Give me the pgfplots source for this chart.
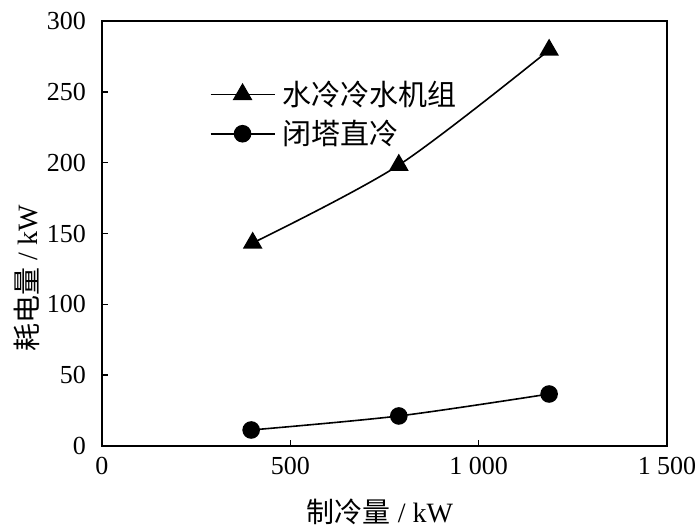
\documentclass[border=0pt]{standalone}
\usepackage{pgfplots}
\pgfplotsset{compat=1.18}
\usepackage{fontspec}
\setmainfont{Liberation Serif}
\newfontfamily\cjk{Noto Sans CJK SC}
\begin{document}
\begin{tikzpicture}
\useasboundingbox (-51pt,-41pt) rectangle (299pt,223pt);
\begin{axis}[
  at={(0,0)}, anchor=south west,
  scale only axis, width=282.5pt, height=212.5pt,
  xmin=0, xmax=1500, ymin=0, ymax=300,
  xtick={0,500,1000,1500}, ytick={0,50,...,300},
  xtick pos=left, ytick pos=left, tick align=inside,
  major tick length=3pt,
  axis line style={line width=0.8pt}, tick style={line width=0.8pt, black},
  /pgf/number format/assume math mode=true,
  /pgf/number format/1000 sep={\ },
  ticklabel style={font=\fontsize{13}{15}\selectfont},
  yticklabel style={xshift=-4.5pt},
  xticklabel style={yshift=-2pt},
  xlabel={{\cjk 制冷量} / kW}, ylabel={{\cjk 耗电量} / kW},
  label style={font=\fontsize{14}{16}\selectfont},
  xlabel style={at={(rel axis cs:0.492,0)}, anchor=center, yshift=-33pt},
  ylabel style={at={(rel axis cs:0,0.395)}, anchor=center, yshift=37.5pt},
  legend style={at={(rel axis cs:0.19,0.87)}, anchor=north west, draw=none, fill=none,
    font=\fontsize{14.5}{16}\selectfont, row sep=2pt, inner sep=0pt,
    /tikz/every even column/.append style={column sep=0pt},
    nodes={inner xsep=3.5pt}},
  legend cell align=left,
  legend image code/.code={\draw[mark repeat=2,mark phase=2,#1] plot coordinates {(0pt,0pt) (16pt,0pt) (32pt,0pt)};},
]
\addplot[black, line width=0.8pt, smooth, tension=0.5, mark=triangle*, mark size=4.9pt, mark options={solid, fill=black}]
  coordinates {(400,143.3) (788,198.3) (1187,279.5)};
\addlegendentry{\cjk 水冷冷水机组}
\addplot[black, line width=0.8pt, smooth, tension=0.5, mark=*, mark size=4pt, mark options={solid, fill=black}]
  coordinates {(396,11.3) (788,21.2) (1187,36.7)};
\addlegendentry{\cjk 闭塔直冷}
\end{axis}
\end{tikzpicture}
\end{document}
